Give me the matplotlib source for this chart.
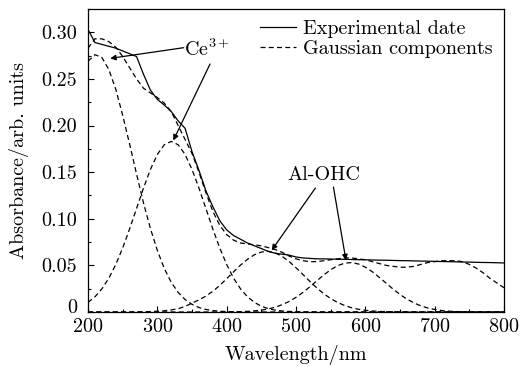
import matplotlib
matplotlib.use("Agg")
import matplotlib.pyplot as plt
import matplotlib.transforms as mtransforms
from matplotlib.ticker import MultipleLocator

plt.rcParams['font.family'] = ['cmr10', 'DejaVu Serif']
plt.rcParams['mathtext.fontset'] = 'cm'
plt.rcParams['axes.formatter.use_mathtext'] = True
plt.rcParams['axes.unicode_minus'] = False

wavelength = list(range(200, 801, 10))

experimental = [0.303, 0.289, 0.287, 0.285, 0.283, 0.280, 0.277, 0.274, 0.255, 0.238,
                0.228, 0.222, 0.215, 0.205, 0.197, 0.172, 0.152, 0.130, 0.113, 0.098,
                0.088, 0.082, 0.078, 0.074, 0.071, 0.068, 0.065, 0.063, 0.062, 0.061,
                0.059, 0.058, 0.0575, 0.057, 0.057, 0.0568, 0.0566, 0.0565, 0.0563, 0.0561,
                0.056, 0.0558, 0.0556, 0.0555, 0.0553, 0.0551, 0.055, 0.0548, 0.0546, 0.0545,
                0.0543, 0.0541, 0.054, 0.0538, 0.0536, 0.0535, 0.0533, 0.0531, 0.053, 0.0528, 0.0526]

fit_sum = [0.283, 0.293, 0.293, 0.290, 0.284, 0.274, 0.262, 0.250, 0.240, 0.235,
           0.230, 0.224, 0.215, 0.200, 0.185, 0.170, 0.150, 0.128, 0.108, 0.093,
           0.083, 0.077, 0.074, 0.073, 0.072, 0.071, 0.069, 0.067, 0.064, 0.060,
           0.057, 0.055, 0.054, 0.054, 0.055, 0.056, 0.057, 0.058, 0.058, 0.057,
           0.056, 0.054, 0.052, 0.050, 0.049, 0.048, 0.048, 0.049, 0.051, 0.053,
           0.054, 0.055, 0.055, 0.055, 0.054, 0.051, 0.047, 0.042, 0.036, 0.031, 0.026]

ce_band1 = [0.269, 0.276, 0.273, 0.260, 0.239, 0.211, 0.180, 0.148, 0.117, 0.0896,
            0.066, 0.0467, 0.0319, 0.021, 0.0133, 0.0082, 0.0048, 0.0027, 0.0015, 0.0008,
            0.0004, 0.0002, 0.0001, 0, 0, 0, 0, 0, 0, 0,
            0, 0, 0, 0, 0, 0, 0, 0, 0, 0,
            0, 0, 0, 0, 0, 0, 0, 0, 0, 0,
            0, 0, 0, 0, 0, 0, 0, 0, 0, 0, 0]

ce_band2 = [0.0103, 0.0163, 0.0248, 0.0362, 0.0509, 0.0687, 0.0891, 0.111, 0.1329, 0.1529,
            0.169, 0.1794, 0.183, 0.1794, 0.169, 0.1529, 0.1329, 0.111, 0.0891, 0.0687,
            0.0509, 0.0362, 0.0248, 0.0163, 0.0103, 0.0062, 0.0036, 0.002, 0.0011, 0.0006,
            0.0003, 0.0001, 0, 0, 0, 0, 0, 0, 0, 0,
            0, 0, 0, 0, 0, 0, 0, 0, 0, 0,
            0, 0, 0, 0, 0, 0, 0, 0, 0, 0, 0]

ohc_band1 = [0, 0, 0, 0, 0, 0, 0, 0, 0.0002, 0.0004,
             0.0008, 0.0013, 0.0022, 0.0035, 0.0060, 0.0095, 0.0130, 0.0170, 0.0222, 0.0285,
             0.0357, 0.0431, 0.0503, 0.0565, 0.0614, 0.0643, 0.065, 0.0634, 0.0596, 0.0542,
             0.0475, 0.0402, 0.0328, 0.0258, 0.0196, 0.0144, 0.0102, 0.007, 0.0046, 0.0029,
             0.0018, 0.0011, 0.0006, 0.0004, 0.0002, 0.0001, 0, 0, 0, 0,
             0, 0, 0, 0, 0, 0, 0, 0, 0, 0, 0]

ohc_band2 = [0, 0, 0, 0, 0, 0, 0, 0, 0, 0,
             0, 0, 0, 0, 0, 0, 0, 0, 0, 0,
             0.0001, 0.0002, 0.0004, 0.0007, 0.0012, 0.002, 0.0033, 0.0051, 0.0078, 0.0113,
             0.0157, 0.021, 0.027, 0.0334, 0.0397, 0.0453, 0.0497, 0.0523, 0.053, 0.0515,
             0.0481, 0.0432, 0.0372, 0.0309, 0.0246, 0.0188, 0.0138, 0.0098, 0.0066, 0.0043,
             0.0027, 0.0016, 0.0009, 0.0005, 0.0003, 0.0001, 0, 0, 0, 0, 0]

x_ticks = [200, 300, 400, 500, 600, 700, 800]
y_ticks = [0, 0.05, 0.10, 0.15, 0.20, 0.25, 0.30]
y_tick_labels = ['0', '0.05', '0.10', '0.15', '0.20', '0.25', '0.30']

FS = 14.5

fig = plt.figure(figsize=(5.29, 3.67), dpi=100)
ax = fig.add_axes([0.1664, 0.1499, 0.7863, 0.8256])

dash = (0, (4.0, 2.6))
ax.plot(wavelength, experimental, color='black', lw=0.9, label='Experimental date')
ax.plot(wavelength, fit_sum, color='black', lw=0.9, ls=dash, label='Gaussian components')
for comp in (ce_band1, ce_band2, ohc_band1, ohc_band2):
    ax.plot(wavelength, comp, color='black', lw=0.9, ls=dash)

ax.set_xlim(200, 800)
ax.set_ylim(0, 0.325)
ax.set_xticks(x_ticks)
ax.set_yticks(y_ticks)
ax.set_yticklabels(y_tick_labels)
ax.xaxis.set_minor_locator(MultipleLocator(50))
ax.yaxis.set_minor_locator(MultipleLocator(0.025))
ax.tick_params(which='both', direction='in', top=False, right=False, labelsize=FS, width=0.8)
ax.tick_params(which='major', length=4)
ax.tick_params(which='minor', length=2)
ax.tick_params(axis='x', pad=4)
ax.tick_params(axis='y', pad=8)
for s in ax.spines.values():
    s.set_linewidth(0.9)

# lift the "0" label slightly so it sits above the "200" label, as in the reference
zero_lbl = ax.get_yticklabels()[0]
zero_lbl.set_transform(zero_lbl.get_transform() +
                       mtransforms.ScaledTranslation(0, 4 / 72, fig.dpi_scale_trans))

ax.set_xlabel('Wavelength/nm', fontsize=FS, labelpad=7)
ax.set_ylabel('Absorbance/arb. units', fontsize=FS, labelpad=9)

leg = ax.legend(loc='upper right', frameon=False, fontsize=FS, handlelength=1.8,
                handletextpad=0.35, labelspacing=0.08, borderaxespad=0.2, borderpad=0.35)

arrow = dict(arrowstyle='-|>', color='black', lw=0.9, mutation_scale=8, shrinkA=0, shrinkB=0)
ax.text(339, 0.282, r'Ce$^{3+}$', fontsize=FS, va='center', ha='left')
ax.annotate('', xy=(232, 0.272), xytext=(338, 0.2835), arrowprops=arrow)
ax.annotate('', xy=(323, 0.184), xytext=(376, 0.266), arrowprops=arrow)

ax.text(540, 0.1466, 'Al-OHC', fontsize=FS, va='center', ha='center')
ax.annotate('', xy=(465, 0.0663), xytext=(528, 0.133), arrowprops=arrow)
ax.annotate('', xy=(572, 0.0556), xytext=(554, 0.134), arrowprops=arrow)

fig.savefig('out.png', dpi=100)
